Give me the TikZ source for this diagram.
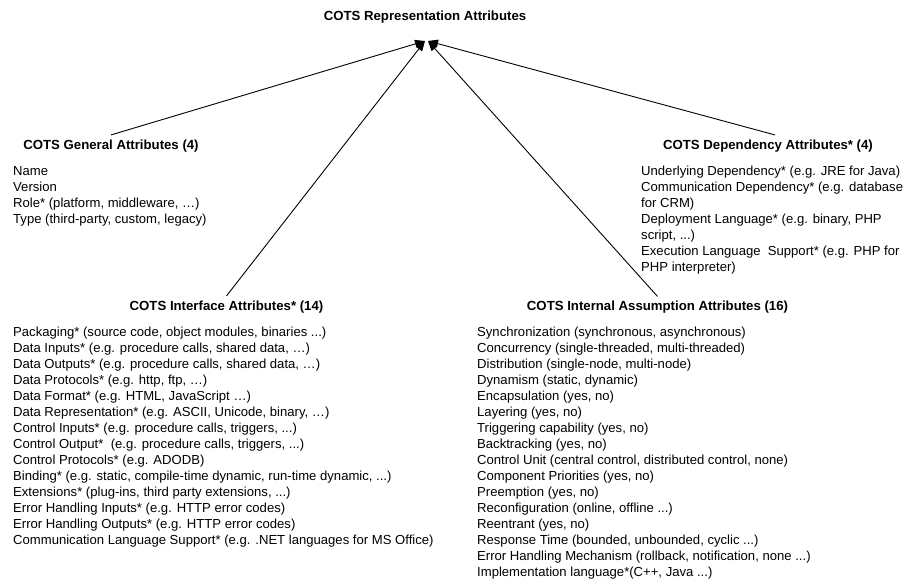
\documentclass[tikz,border=0pt]{standalone}
\usepackage{fontspec}
\setmainfont{Liberation Sans}
\usetikzlibrary{arrows.meta}
\newcommand{\listfont}{\fontsize{13.1}{16}\selectfont}
\newcommand{\headfont}{\fontsize{13.2}{16}\selectfont\bfseries}
\begin{document}
\begin{tikzpicture}[x=1pt,y=-1pt,
  listtext/.style={anchor=base west, inner sep=0pt, font=\listfont},
  headtext/.style={anchor=base, inner sep=0pt, outer ysep=5pt, font=\headfont},
  link/.style={line width=0.9pt, -{Triangle[length=10pt,width=8pt]}}]
\useasboundingbox (0,0) rectangle (906,580);

\node[headtext] (top) at (425,20.5) {COTS Representation Attributes};
\coordinate (tipL) at (425,41);
\coordinate (tipR) at (428,41);

% General
\node[headtext] (genhead) at (111,149.5) {COTS General Attributes (4)};
\node[listtext] (genlist) at (13,175.5) {\begin{tabular}[t]{@{}l@{}}
Name\\
Version\\
Role* (platform, middleware, …)\\
Type (third-party, custom, legacy)
\end{tabular}};

% Dependency
\node[headtext] (dephead) at (768,149.5) {COTS Dependency Attributes* (4)};
\node[listtext] (deplist) at (641,176) {\begin{tabular}[t]{@{}l@{}}
Underlying Dependency* (e.g. JRE for Java)\\
Communication Dependency* (e.g. database\\
for CRM)\\
Deployment Language* (e.g. binary, PHP\\
script, ...)\\
Execution Language~ Support* (e.g. PHP for\\
PHP interpreter)
\end{tabular}};

% Interface
\node[headtext] (ifhead) at (226.5,310.5) {COTS Interface Attributes* (14)};
\node[listtext] (iflist) at (13,336.5) {\begin{tabular}[t]{@{}l@{}}
Packaging* (source code, object modules, binaries ...)\\
Data Inputs* (e.g. procedure calls, shared data, …)\\
Data Outputs* (e.g. procedure calls, shared data, …)\\
Data Protocols* (e.g. http, ftp, …)\\
Data Format* (e.g. HTML, JavaScript …)\\
Data Representation* (e.g. ASCII, Unicode, binary, …)\\
Control Inputs* (e.g. procedure calls, triggers, ...)\\
Control Output*~ (e.g. procedure calls, triggers, ...)\\
Control Protocols* (e.g. ADODB)\\
Binding* (e.g. static, compile-time dynamic, run-time dynamic, ...)\\
Extensions* (plug-ins, third party extensions, ...)\\
Error Handling Inputs* (e.g. HTTP error codes)\\
Error Handling Outputs* (e.g. HTTP error codes)\\
Communication Language Support* (e.g. .NET languages for MS Office)
\end{tabular}};

% Internal assumption
\node[headtext] (inthead) at (657.5,311) {COTS Internal Assumption Attributes (16)};
\node[listtext] (intlist) at (477,336.5) {\begin{tabular}[t]{@{}l@{}}
Synchronization (synchronous, asynchronous)\\
Concurrency (single-threaded, multi-threaded)\\
Distribution (single-node, multi-node)\\
Dynamism (static, dynamic)\\
Encapsulation (yes, no)\\
Layering (yes, no)\\
Triggering capability (yes, no)\\
Backtracking (yes, no)\\
Control Unit (central control, distributed control, none)\\
Component Priorities (yes, no)\\
Preemption (yes, no)\\
Reconfiguration (online, offline ...)\\
Reentrant (yes, no)\\
Response Time (bounded, unbounded, cyclic ...)\\
Error Handling Mechanism (rollback, notification, none ...)\\
Implementation language*(C++, Java ...)
\end{tabular}};

\draw[link] (genhead.north) -- (tipL);
\draw[link] (ifhead.north) -- (tipL);
\draw[link] (inthead.north) -- (tipR);
\draw[link] ([xshift=7pt]dephead.north) -- (tipR);
\end{tikzpicture}
\end{document}
